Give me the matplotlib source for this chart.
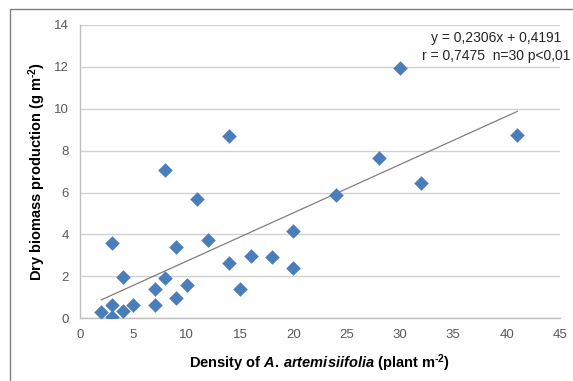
import numpy as np
import matplotlib
matplotlib.use("Agg")
import matplotlib.pyplot as plt
from matplotlib.patches import Rectangle

plt.rcParams['font.family'] = ['Liberation Sans', 'DejaVu Sans']
plt.rcParams['mathtext.fontset'] = 'custom'
plt.rcParams['mathtext.rm'] = 'Liberation Sans:bold'
plt.rcParams['mathtext.it'] = 'Liberation Sans:italic:bold'
plt.rcParams['mathtext.bf'] = 'Liberation Sans:bold'

# density (plant m-2) and dry biomass (g m-2)
density = [2, 3, 3, 3, 4, 4, 5, 7, 7, 8, 8, 9, 9, 10, 11, 12, 14, 14,
           15, 16, 18, 20, 20, 24, 28, 30, 32, 41]
biomass = [0.3, 0.65, 0.05, 3.6, 1.95, 0.35, 0.65, 0.65, 1.4, 1.9, 7.1, 3.38, 0.98, 1.58, 5.7, 3.72, 2.64, 8.7,
           1.4, 2.97, 2.92, 4.15, 2.38, 5.88, 7.67, 11.95, 6.44, 8.75]

slope = 0.2306
intercept = 0.4191
fit_label = "y = 0,2306x + 0,4191\nr = 0,7475  n=30 p<0,01"

fig = plt.figure(figsize=(5.73, 3.81), dpi=100)
ax = fig.add_axes([0.1396, 0.1646, 0.8377, 0.770])

# outer chart frame
fig.patches.append(Rectangle((10 / 573, -0.1), 1.2, 1 - 9 / 381 + 0.1, transform=fig.transFigure,
                             fill=False, edgecolor='#808080', linewidth=1.0))

ax.scatter(density, biomass, marker='D', s=55, color='#4a7ebb', zorder=3, linewidths=0)

xs = np.array([min(density), max(density)])
ax.plot(xs, slope * xs + intercept, color='#7f7f7f', linewidth=0.9, zorder=2)

ax.set_xlim(0, 45)
ax.set_ylim(0, 14)
ax.set_xticks(np.arange(0, 46, 5))
ax.set_yticks(np.arange(0, 15, 2))
ax.tick_params(length=0, labelsize=9.5, colors='#595959', pad=8)
ax.yaxis.grid(True, color='#d0d0d0', linewidth=1.0)
ax.set_axisbelow(True)
for s in ['top', 'right']:
    ax.spines[s].set_visible(False)
for s in ['left', 'bottom']:
    ax.spines[s].set_color('#c0c0c0')
    ax.spines[s].set_linewidth(1.0)

ax.set_xlabel(r"Density of $\it{A.\,artemisiifolia}$ (plant m$^{\text{-2}}$)", fontsize=10.5,
              fontweight='bold', labelpad=8)
ax.set_ylabel(r"Dry biomass production (g m$^{\text{-2}}$)", fontsize=10.5, fontweight='bold', labelpad=4)

fig.text(496 / 573, 1 - 47 / 381, fit_label, ha='center', va='center', fontsize=10,
         color='#262626', linespacing=1.45)

fig.savefig("out.png", dpi=100)
